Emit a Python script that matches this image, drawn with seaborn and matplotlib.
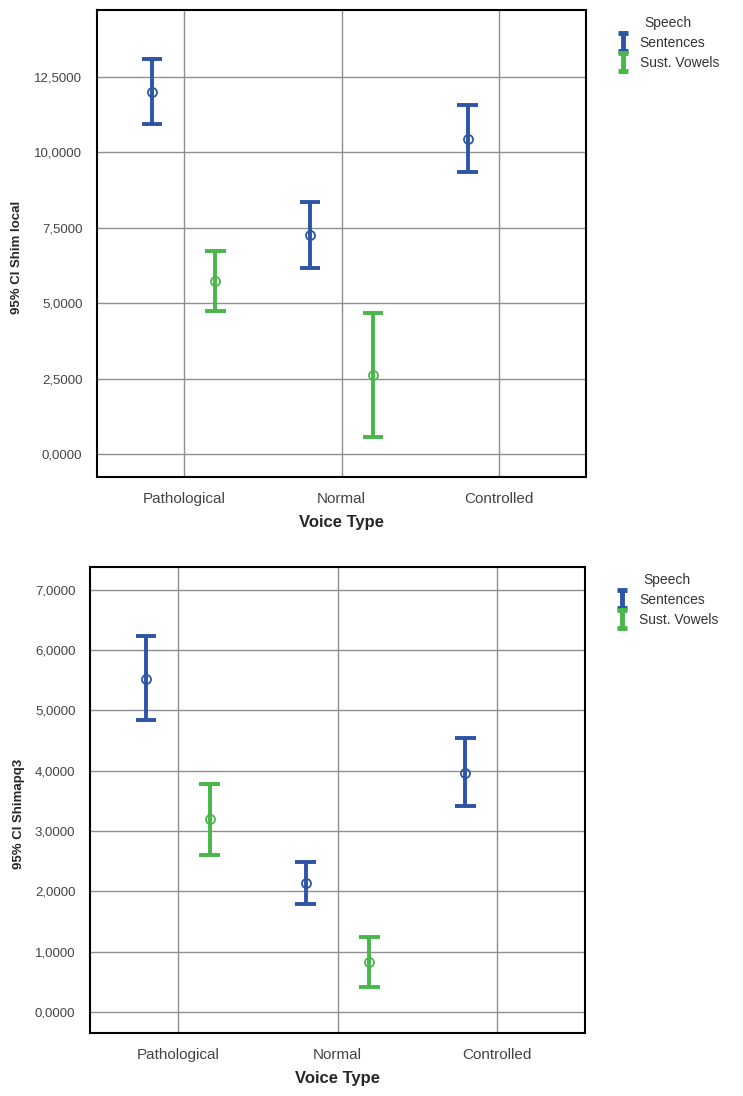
import matplotlib
matplotlib.use("Agg")
import matplotlib.pyplot as plt
import numpy as np
import pandas as pd
import seaborn as sns
from matplotlib.lines import Line2D
from matplotlib.path import Path

VOICE_TYPES = ["Pathological", "Normal", "Controlled"]
SPEECH_TYPES = ["Sentences", "Sust. Vowels"]
COLORS = {"Sentences": "#2d55a5", "Sust. Vowels": "#48b648"}

# Shim local: mean and 95% CI bounds per voice type (vowels not measured for Controlled)
local_sent_mean = [12.00, 7.26, 10.45]
local_sent_lo = [10.92, 6.16, 9.36]
local_sent_hi = [13.10, 8.34, 11.55]
local_vow_mean = [5.73, 2.62]
local_vow_lo = [4.74, 0.57]
local_vow_hi = [6.72, 4.68]

# Shim apq3
apq3_sent_mean = [5.53, 2.13, 3.97]
apq3_sent_lo = [4.84, 1.79, 3.42]
apq3_sent_hi = [6.23, 2.48, 4.54]
apq3_vow_mean = [3.20, 0.82]
apq3_vow_lo = [2.60, 0.42]
apq3_vow_hi = [3.78, 1.25]


def long_frame(sent, vow):
    # each group -> three rows (lo, mean, hi); median gives the mean, 100% interval gives the CI
    rows = []
    for speech, (means, los, his) in zip(SPEECH_TYPES, (sent, vow)):
        for voice, m, lo, hi in zip(VOICE_TYPES, means, los, his):
            for v in (lo, m, hi):
                rows.append({"Voice Type": voice, "Speech": speech, "value": v})
    return pd.DataFrame(rows)


def fmt(v):
    return f"{v:.4f}".replace(".", ",")


def draw(ax, df, ylabel, ticks, ylim, label_x):
    sns.pointplot(data=df, x="Voice Type", y="value", hue="Speech", order=VOICE_TYPES,
                  hue_order=SPEECH_TYPES, palette=COLORS, estimator="median",
                  errorbar=("pi", 100), dodge=0.4, linestyle="none", markers="o",
                  capsize=0.13, markersize=6.5, markeredgewidth=1.3, markerfacecolor="none",
                  err_kws={"linewidth": 2.8, "solid_capstyle": "butt"}, legend=False, ax=ax)
    ax.set_xlim(-0.55, 2.55)
    ax.set_ylim(*ylim)
    ax.set_yticks(ticks)
    ax.set_yticklabels([fmt(t) for t in ticks], fontsize=9.5, color="#444444")
    ax.set_xticks(range(len(VOICE_TYPES)))
    ax.set_xticklabels(VOICE_TYPES, fontsize=11, color="#444444")
    ax.grid(True, color="#8f8f8f", linewidth=1.0)
    ax.set_axisbelow(True)
    for s in ax.spines.values():
        s.set_color("black")
        s.set_linewidth(1.5)
    ax.tick_params(direction="out", length=7, width=1, color="black", pad=3.5)
    ax.set_xlabel("Voice Type", fontsize=12, fontweight="bold", labelpad=7)
    ax.set_ylabel(ylabel, fontsize=9.5, fontweight="bold")
    ax.yaxis.set_label_coords(label_x, 0.47)

    ibeam = Path([(-0.6, 1), (0.6, 1), (0, 1), (0, -1), (-0.6, -1), (0.6, -1)],
                 [Path.MOVETO, Path.LINETO, Path.MOVETO, Path.LINETO, Path.MOVETO, Path.LINETO])
    handles = [Line2D([], [], marker=ibeam, linestyle="none", markersize=13,
                      markeredgewidth=3.5, color=COLORS[s], markerfacecolor="none")
               for s in SPEECH_TYPES]
    leg = ax.legend(handles, SPEECH_TYPES, title="Speech", loc="upper left",
                    bbox_to_anchor=(1.05, 1.0), frameon=False, fontsize=10,
                    title_fontsize=10, handlelength=1.0, handletextpad=0.7,
                    labelspacing=0.45, borderaxespad=0)
    for t in leg.get_texts():
        t.set_color("#333333")
    leg.get_title().set_color("#333333")


def main() -> None:
    sns.set_style("white")
    plt.rcParams["font.family"] = ["Liberation Sans", "DejaVu Sans"]

    fig = plt.figure(figsize=(7.43, 10.96), dpi=100)
    ax1 = fig.add_axes([97 / 743, 1 - 477 / 1096, 489 / 743, 467 / 1096])
    ax2 = fig.add_axes([90 / 743, 1 - 1033 / 1096, 495 / 743, 466 / 1096])

    df_local = long_frame((local_sent_mean, local_sent_lo, local_sent_hi),
                          (local_vow_mean, local_vow_lo, local_vow_hi))
    df_apq3 = long_frame((apq3_sent_mean, apq3_sent_lo, apq3_sent_hi),
                         (apq3_vow_mean, apq3_vow_lo, apq3_vow_hi))

    draw(ax1, df_local, "95% CI Shim local", np.arange(0, 12.6, 2.5), (-0.76, 14.71), -0.151)
    draw(ax2, df_apq3, "95% CI Shimapq3", np.arange(0, 7.1, 1.0), (-0.35, 7.38), -0.131)

    fig.savefig("out.png", dpi=100)


if __name__ == "__main__":
    main()
